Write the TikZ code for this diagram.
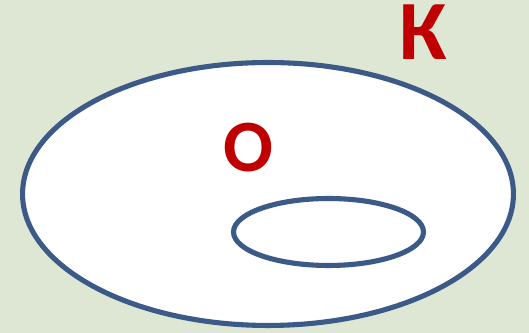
\documentclass[tikz,border=0pt]{standalone}
\usepackage{fontspec}
\setmainfont{Carlito}
\usetikzlibrary{shapes.geometric}
\definecolor{colBg}{RGB}{221,231,211}
\definecolor{colRing}{RGB}{59,90,136}
\definecolor{colLetter}{RGB}{192,0,0}
\tikzset{
  ring/.style={ellipse, draw=colRing, line width=2.9pt, fill=white, inner sep=0pt},
  letter/.style={text=colLetter, font=\bfseries, inner sep=0pt, anchor=base},
}
\begin{document}
\begin{tikzpicture}[x=0.02cm, y=-0.02cm]

% ---- Background ------------------------------------------------
\fill[colBg] (0,0) rectangle (529,333);
\useasboundingbox (0,0) rectangle (529,333);

% ---- Sets ------------------------------------------------------
\node[ring, minimum width=9.82cm, minimum height=5.26cm] (outer) at (268,194) {};
\node[ring, minimum width=3.8cm, minimum height=1.34cm] (inner) at (328.5,232) {};

% ---- Labels ----------------------------------------------------
\node[letter, font=\fontsize{48}{48}\selectfont\bfseries] (kLabel) at (423,60) {К};
\node[letter, font=\fontsize{42}{42}\selectfont\bfseries] (oLabel) at (248,172) {О};

\end{tikzpicture}
\end{document}
